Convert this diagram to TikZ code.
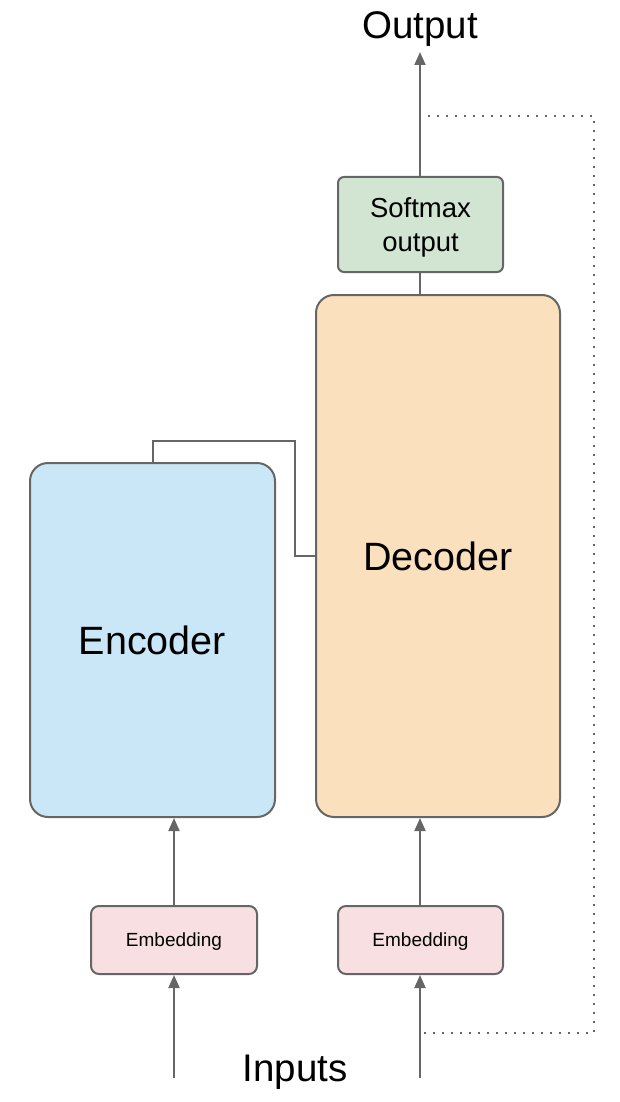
\documentclass[tikz,border=0pt]{standalone}
\usepackage{fontspec}
\setmainfont{Liberation Sans}
\usetikzlibrary{arrows.meta}
\definecolor{edgegray}{HTML}{666666}
\definecolor{encfill}{HTML}{C9E7F6}
\definecolor{decfill}{HTML}{FAE0BC}
\definecolor{softfill}{HTML}{D2E5D3}
\definecolor{embfill}{HTML}{F8DFE2}
\begin{document}
\begin{tikzpicture}[x=1pt,y=-1pt,
  block/.style={draw=edgegray, line width=2pt, rectangle, inner sep=0pt},
  bigblock/.style={block, rounded corners=18pt, font=\fontsize{39.5}{44}\selectfont},
  smallblock/.style={block, rounded corners=8pt, text depth=0pt},
  label/.style={inner sep=0pt, text depth=0pt, font=\fontsize{38.5}{44}\selectfont},
  link/.style={draw=edgegray, line width=2pt},
  flow/.style={link, -{Triangle[width=11pt,length=13pt]}},
  feedback/.style={draw=edgegray, line width=2pt, dash pattern=on 2pt off 7pt}]
  \useasboundingbox (0,0) rectangle (619,1102);

  % main stacks
  \node[bigblock, fill=encfill, minimum width=245pt, minimum height=354pt] (enc) at (152.5,640) {Encoder};
  \node[bigblock, fill=decfill, minimum width=244pt, minimum height=522pt] (dec) at (438,556) {Decoder};
  \node[smallblock, rounded corners=6pt, fill=softfill, minimum width=165pt, minimum height=95pt,
        align=center, font=\fontsize{27.5}{34}\selectfont] (soft) at (420.5,224.5) {Softmax\\output};
  \node[smallblock, fill=embfill, minimum width=166pt, minimum height=68pt,
        font=\fontsize{19}{22}\selectfont] (embL) at (174,940) {Embedding};
  \node[smallblock, fill=embfill, minimum width=165pt, minimum height=68pt,
        font=\fontsize{19}{22}\selectfont] (embR) at (420.5,940) {Embedding};

  % labels
  \node[label] (out) at (420,25) {Output};
  \node[label] (in) at (295,1068) {Inputs};

  % free ends
  \coordinate (outtip) at (420,52);
  \coordinate (srcL) at (174,1078);
  \coordinate (srcR) at (420,1078);
  \coordinate (bend) at (295,441);
  \coordinate (fbtop) at (428,116);
  \coordinate (fbright) at (594,116);
  \coordinate (fbbottom) at (424,1033);

  % data flow
  \draw[flow] (srcL) -- (embL.south -| srcL);
  \draw[flow] (embL.north) -- (embL.north |- enc.south);
  \draw[flow] (srcR) -- (embR.south -| srcR);
  \draw[flow] (embR.north -| srcR) -- (srcR |- dec.south);
  \draw[link] (srcR |- dec.north) -- (srcR |- soft.south);
  \draw[flow] (srcR |- soft.north) -- (outtip);

  % encoder output into decoder
  \draw[link] (enc.north) |- (bend) |- (dec.west);

  % shifted output fed back as decoder input
  \draw[feedback] (fbtop) -- (fbright) |- (fbbottom);
\end{tikzpicture}
\end{document}
